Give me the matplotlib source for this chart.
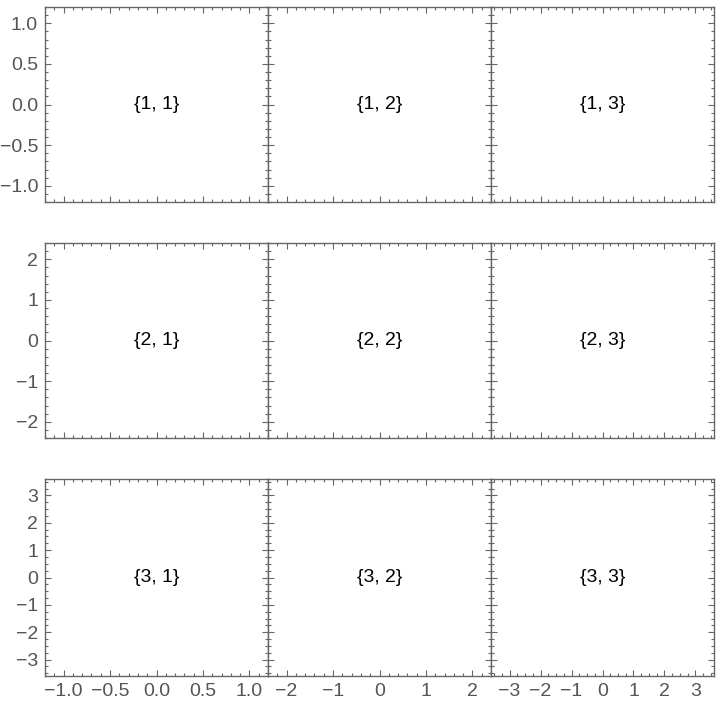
import numpy as np
import matplotlib.pyplot as plt
from matplotlib.ticker import MultipleLocator, FuncFormatter

# half-widths of each column / row range
col_ranges = [1.2, 2.4, 3.6]
row_ranges = [1.2, 2.4, 3.6]
col_major = [0.5, 1.0, 1.0]
col_minor = [0.1, 0.2, 0.25]
row_major = [0.5, 1.0, 1.0]
row_minor = [0.1, 0.2, 0.25]
col_fmt = ["%.1f", "%d", "%d"]
row_fmt = ["%.1f", "%d", "%d"]

plt.rcParams['font.family'] = ['Liberation Sans', 'DejaVu Sans']


def make_fmt(f):
    def _fmt(v, pos):
        if abs(v) < 1e-9:
            v = 0.0
        s = f % v
        return s.replace('-', '\u2212')
    return FuncFormatter(_fmt)


fig = plt.figure(figsize=(7.2, 7.04), dpi=100)

W, H = 720, 704
left, right = 45, 714
row_px = [(7, 202), (243, 438), (479, 676)]
cw = (right - left) / 3
frame_col = "#666666"

for i in range(3):
    top, bot = row_px[i]
    for j in range(3):
        x0 = left + j * cw
        ax = fig.add_axes([x0 / W, 1 - bot / H, cw / W, (bot - top) / H])
        ax.set_xlim(-col_ranges[j], col_ranges[j])
        ax.set_ylim(-row_ranges[i], row_ranges[i])
        ax.xaxis.set_major_locator(MultipleLocator(col_major[j]))
        ax.xaxis.set_minor_locator(MultipleLocator(col_minor[j]))
        ax.yaxis.set_major_locator(MultipleLocator(row_major[i]))
        ax.yaxis.set_minor_locator(MultipleLocator(row_minor[i]))
        ax.xaxis.set_major_formatter(make_fmt(col_fmt[j]))
        ax.yaxis.set_major_formatter(make_fmt(row_fmt[i]))
        for s in ax.spines.values():
            s.set_color(frame_col)
            s.set_linewidth(1.0)
        ax.tick_params(which='both', direction='in', top=True, right=True,
                       color=frame_col, labelcolor="#555555", labelsize=14,
                       width=0.8)
        ax.tick_params(which='major', length=4.5, pad=5)
        ax.tick_params(which='minor', length=2.5)
        ax.tick_params(labelleft=(j == 0), labelbottom=(i == 2))
        ax.text(0, 0, "{%d, %d}" % (i + 1, j + 1), ha='center', va='center',
                fontsize=14, color='black')

fig.savefig("out.png", dpi=100)
